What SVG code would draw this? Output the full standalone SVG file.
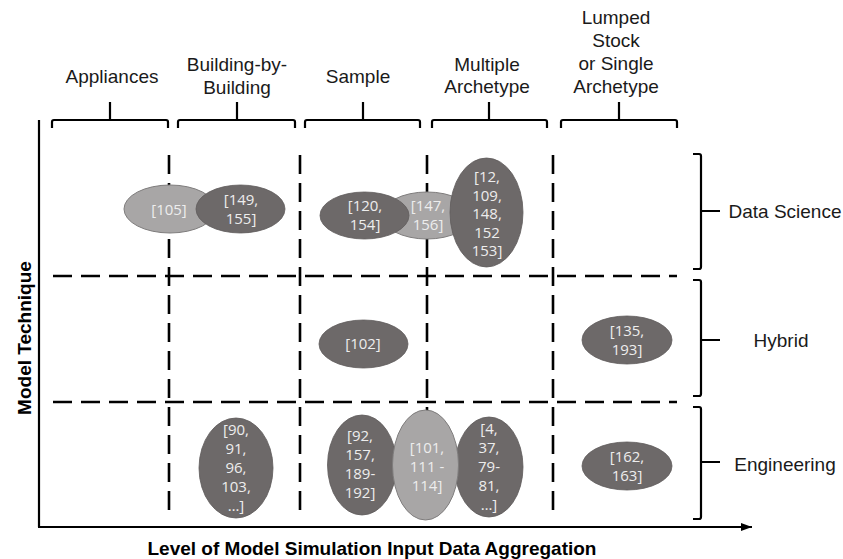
<svg xmlns="http://www.w3.org/2000/svg" width="843" height="559" viewBox="0 0 843 559">
  <defs>
    <marker id="arrow" markerWidth="12" markerHeight="10" refX="11" refY="5" orient="auto" markerUnits="userSpaceOnUse">
      <path d="M0,1 L11,5 L0,9 Z" fill="#000"/>
    </marker>
  </defs>
  <style>
    .head { font-family: "Liberation Sans", Arial, sans-serif; font-size: 19px; fill: #1a1a1a; text-anchor: middle; }
    .axis { font-family: "Liberation Sans", Arial, sans-serif; font-size: 19px; font-weight: bold; fill: #000; text-anchor: middle; }
    .brace { fill: none; stroke: #000; stroke-width: 2.2; stroke-linejoin: round; }
    .grid { fill: none; stroke: #000; stroke-width: 2.6; stroke-dasharray: 19 9; }
    .dark { fill: #6d6969; stroke: #5e5a5a; stroke-width: 0.8; }
    .light { fill: #a8a6a6; stroke: #7f7d7d; stroke-width: 1; }
    .ref { font-family: "Open Sans", "Noto Sans", sans-serif; font-size: 15px; fill: #ededed; text-anchor: middle; }
  </style>
  <rect width="843" height="559" fill="#fff"/>

  <!-- axes -->
  <g id="axes">
    <line x1="39" y1="120" x2="39" y2="527" stroke="#000" stroke-width="2.2"/>
    <line x1="38" y1="527" x2="752" y2="527" stroke="#000" stroke-width="2.2" marker-end="url(#arrow)"/>
    <text class="axis" transform="translate(31,338) rotate(-90)">Model Technique</text>
    <text class="axis" x="372" y="555">Level of Model Simulation Input Data Aggregation</text>
  </g>

  <!-- grid -->
  <g id="grid">
    <line class="grid" x1="169" y1="155" x2="169" y2="516"/>
    <line class="grid" x1="300" y1="155" x2="300" y2="516"/>
    <line class="grid" x1="427" y1="155" x2="427" y2="516"/>
    <line class="grid" x1="553" y1="155" x2="553" y2="516"/>
    <line class="grid" x1="53" y1="276" x2="677" y2="276"/>
    <line class="grid" x1="53" y1="402" x2="677" y2="402"/>
  </g>

  <!-- column headers -->
  <g id="col-appliances">
    <path class="brace" d="M52,128 V122 Q52,120 54,120 H166 Q168,120 168,122 V128 M110,120 V102"/>
    <text class="head" x="112" y="83">Appliances</text>
  </g>
  <g id="col-building">
    <path class="brace" d="M178,128 V122 Q178,120 180,120 H293 Q295,120 295,122 V128 M237,120 V102"/>
    <text class="head" x="237" y="71">Building-by-</text>
    <text class="head" x="237" y="94">Building</text>
  </g>
  <g id="col-sample">
    <path class="brace" d="M305,128 V122 Q305,120 307,120 H418 Q420,120 420,122 V128 M363,120 V102"/>
    <text class="head" x="358" y="83">Sample</text>
  </g>
  <g id="col-multiple">
    <path class="brace" d="M432,128 V122 Q432,120 434,120 H545 Q547,120 547,122 V128 M489,120 V102"/>
    <text class="head" x="487" y="71">Multiple</text>
    <text class="head" x="487" y="93">Archetype</text>
  </g>
  <g id="col-lumped">
    <path class="brace" d="M561,128 V122 Q561,120 563,120 H675 Q677,120 677,122 V128 M619,120 V102"/>
    <text class="head" x="616" y="24">Lumped</text>
    <text class="head" x="616" y="47">Stock</text>
    <text class="head" x="616" y="70">or Single</text>
    <text class="head" x="616" y="93">Archetype</text>
  </g>

  <!-- row headers -->
  <g id="row-data-science">
    <path class="brace" d="M693,154 H699 Q701,154 701,156 V267 Q701,269 699,269 H693 M701,211 H720"/>
    <text class="head" x="785" y="218">Data Science</text>
  </g>
  <g id="row-hybrid">
    <path class="brace" d="M693,280 H699 Q701,280 701,282 V394 Q701,396 699,396 H693 M701,340 H720"/>
    <text class="head" x="781" y="347">Hybrid</text>
  </g>
  <g id="row-engineering">
    <path class="brace" d="M693,407 H699 Q701,407 701,409 V517 Q701,519 699,519 H693 M701,462 H720"/>
    <text class="head" x="785" y="471">Engineering</text>
  </g>

  <!-- Data Science row -->
  <g id="ds-105">
    <ellipse class="light" cx="170" cy="209" rx="46" ry="24"/>
    <text class="ref" x="169" y="215">[105]</text>
  </g>
  <g id="ds-149-155">
    <ellipse class="dark" cx="240.5" cy="209" rx="44.5" ry="24"/>
    <text class="ref" x="241" y="205">[149,</text>
    <text class="ref" x="241" y="224">155]</text>
  </g>
  <g id="ds-147-156">
    <ellipse class="light" cx="427" cy="215.5" rx="45" ry="23.5"/>
    <text class="ref" x="428" y="211">[147,</text>
    <text class="ref" x="428" y="230">156]</text>
  </g>
  <g id="ds-120-154">
    <ellipse class="dark" cx="364.5" cy="215.5" rx="44.5" ry="23.5"/>
    <text class="ref" x="365" y="211">[120,</text>
    <text class="ref" x="365" y="230">154]</text>
  </g>
  <g id="ds-12-153">
    <ellipse class="dark" cx="486.5" cy="212.5" rx="36.5" ry="54.5"/>
    <text class="ref" x="487" y="182">[12,</text>
    <text class="ref" x="487" y="200.5">109,</text>
    <text class="ref" x="487" y="219">148,</text>
    <text class="ref" x="487" y="237.5">152</text>
    <text class="ref" x="487" y="256">153]</text>
  </g>

  <!-- Hybrid row -->
  <g id="hy-102">
    <ellipse class="dark" cx="363.5" cy="344" rx="44.5" ry="24"/>
    <text class="ref" x="363" y="349">[102]</text>
  </g>
  <g id="hy-135-193">
    <ellipse class="dark" cx="627" cy="340" rx="45" ry="24"/>
    <text class="ref" x="627" y="336">[135,</text>
    <text class="ref" x="627" y="355">193]</text>
  </g>

  <!-- Engineering row -->
  <g id="en-90">
    <ellipse class="dark" cx="236" cy="468" rx="37" ry="50"/>
    <text class="ref" x="236" y="435">[90,</text>
    <text class="ref" x="236" y="454">91,</text>
    <text class="ref" x="236" y="473">96,</text>
    <text class="ref" x="236" y="492">103,</text>
    <text class="ref" x="236" y="511">…]</text>
  </g>
  <g id="en-92">
    <ellipse class="dark" cx="362" cy="465" rx="34.5" ry="50"/>
    <text class="ref" x="360" y="441">[92,</text>
    <text class="ref" x="360" y="460">157,</text>
    <text class="ref" x="360" y="479">189-</text>
    <text class="ref" x="360" y="498">192]</text>
  </g>
  <g id="en-4">
    <ellipse class="dark" cx="489" cy="467" rx="34" ry="50"/>
    <text class="ref" x="489" y="434">[4,</text>
    <text class="ref" x="489" y="453">37,</text>
    <text class="ref" x="489" y="472">79-</text>
    <text class="ref" x="489" y="491">81,</text>
    <text class="ref" x="489" y="510">…]</text>
  </g>
  <g id="en-101">
    <ellipse class="light" cx="425.5" cy="465" rx="33" ry="55"/>
    <text class="ref" x="427" y="453">[101,</text>
    <text class="ref" x="427" y="472">111 -</text>
    <text class="ref" x="427" y="491">114]</text>
  </g>
  <g id="en-162-163">
    <ellipse class="dark" cx="627" cy="466" rx="45" ry="24"/>
    <text class="ref" x="627" y="462">[162,</text>
    <text class="ref" x="627" y="481">163]</text>
  </g>
</svg>
